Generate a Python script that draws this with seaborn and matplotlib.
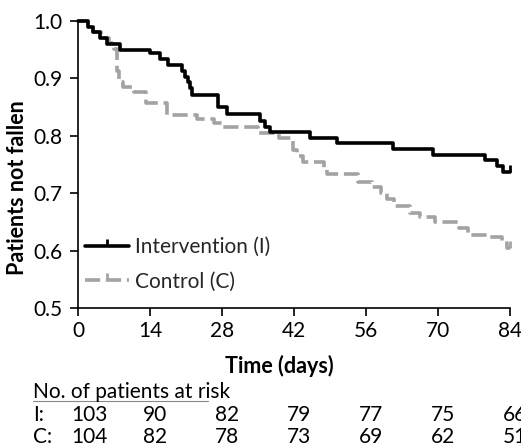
import numpy as np
import pandas as pd
import matplotlib
matplotlib.use("Agg")
import matplotlib.pyplot as plt
from matplotlib.lines import Line2D
import seaborn as sns

# Kaplan-Meier estimates: time (days) and proportion of patients not fallen
int_time = [0, 1.9, 2.9, 4.3, 5.6, 8.2, 14.0, 16.0, 17.5, 20.2, 20.8, 21.4, 21.8, 22.2,
            27.2, 29.0, 35.4, 36.4, 37.3, 45.1, 50.4, 61.3, 69.1, 79.2, 81.5, 82.7, 84.0]
int_surv = [1.0, 0.99, 0.98, 0.97, 0.96, 0.95, 0.944, 0.934, 0.923, 0.913, 0.903, 0.893, 0.883, 0.871,
            0.85, 0.838, 0.826, 0.816, 0.806, 0.797, 0.787, 0.777, 0.767, 0.757, 0.747, 0.737, 0.737]

ctl_time = [0, 2.0, 3.0, 4.5, 6.0, 7.0, 7.6, 8.0, 8.8, 10.8, 13.2, 17.3, 23.1, 26.5, 28.0,
            35.0, 39.0, 41.8, 42.6, 43.8, 47.8, 48.5, 54.5, 57.2, 59.0, 60.0, 61.5, 64.5,
            66.5, 69.5, 74.0, 75.8, 79.7, 82.5, 83.5, 84.0]
ctl_surv = [1.0, 0.99, 0.98, 0.97, 0.961, 0.952, 0.913, 0.894, 0.885, 0.876, 0.857, 0.836, 0.829, 0.822, 0.815,
            0.805, 0.796, 0.775, 0.764, 0.754, 0.744, 0.733, 0.72, 0.71, 0.70, 0.69, 0.677, 0.666,
            0.658, 0.649, 0.639, 0.628, 0.623, 0.614, 0.605, 0.605]

# Numbers at risk
risk_days = [0, 14, 28, 42, 56, 70, 84]
risk_int = [103, 90, 82, 79, 77, 75, 66]
risk_ctl = [104, 82, 78, 73, 69, 62, 51]

x_ticks = [0, 14, 28, 42, 56, 70, 84]
y_ticks = [0.5, 0.6, 0.7, 0.8, 0.9, 1.0]

labels = ["Intervention (I)", "Control (C)"]

sns.set_theme(style="white")
plt.rcParams["font.family"] = ["Lato", "DejaVu Sans"]
plt.rcParams["axes.edgecolor"] = "black"

FS = 15
FS_BOLD = 15.5

fig = plt.figure(figsize=(5.21, 4.46), dpi=100)
ax = fig.add_axes([0.1497, 0.3094, 0.8292, 0.6435])

df_int = pd.DataFrame({"time": int_time, "surv": int_surv})
df_ctl = pd.DataFrame({"time": ctl_time, "surv": ctl_surv})

black = "#000000"
grey = "#a3a3a3"
tick_marker = [(0, 0), (0, 1)]

sns.lineplot(data=df_ctl, x="time", y="surv", ax=ax, estimator=None, sort=False,
             drawstyle="steps-post", color=grey, linewidth=2.6,
             linestyle=(0, (4.2, 1.6)), marker=tick_marker, markersize=10,
             markeredgewidth=2, markeredgecolor=grey, markevery=[len(ctl_time) - 1],
             clip_on=False)
sns.lineplot(data=df_int, x="time", y="surv", ax=ax, estimator=None, sort=False,
             drawstyle="steps-post", color=black, linewidth=2.6,
             marker=tick_marker, markersize=10, markeredgewidth=2,
             markeredgecolor=black, markevery=[len(int_time) - 1], clip_on=False)

ax.set_xlim(0, 84)
ax.set_ylim(0.5, 1.0)
ax.set_xticks(x_ticks)
ax.set_yticks(y_ticks)
ax.set_yticklabels([f"{v:.1f}" for v in y_ticks])
sns.despine(ax=ax)
for s in ("left", "bottom"):
    ax.spines[s].set_linewidth(1.2)
ax.tick_params(axis="both", which="major", direction="out", length=6, width=1.2,
               color="black", labelsize=FS, labelcolor="black", bottom=True, left=True)
ax.tick_params(axis="y", pad=5)
ax.tick_params(axis="x", pad=3)

ax.set_xlabel("Time (days)", fontsize=FS_BOLD, fontweight="bold", color="black")
ax.set_ylabel("Patients not fallen", fontsize=FS_BOLD, fontweight="bold", color="black")
ax.xaxis.set_label_coords(0.465, -0.165)
ax.yaxis.set_label_coords(-0.116, 0.42)

handles = [
    Line2D([0], [0], color=black, linewidth=2.6, marker=tick_marker, markersize=10,
           markeredgewidth=2, markeredgecolor=black),
    Line2D([0], [0], color=grey, linewidth=2.6, linestyle=(0, (4.2, 1.6)),
           marker=tick_marker, markersize=10, markeredgewidth=2, markeredgecolor=grey),
]
ax.legend(handles, labels, loc="center left", bbox_to_anchor=(0.016, 0.153),
          frameon=False, fontsize=FS, handlelength=2.1, handletextpad=0.3,
          labelspacing=0.7, borderpad=0, borderaxespad=0)

# Table of numbers at risk below the axis
trans = matplotlib.transforms.blended_transform_factory(ax.transData, fig.transFigure)
offset = matplotlib.transforms.ScaledTranslation(-7 / 100, 0, fig.dpi_scale_trans)
fig.text(33 / 521, 1 - 392 / 446, "No. of patients at risk", fontsize=FS,
         ha="left", va="center", color="black")
fig.add_artist(Line2D([33 / 521, 208 / 521], [1 - 400.5 / 446, 1 - 400.5 / 446],
                      color="#888888", linewidth=0.8, transform=fig.transFigure))
row_y = [1 - 415 / 446, 1 - 437 / 446]
for lab, vals, yy in zip(["I:", "C:"], [risk_int, risk_ctl], row_y):
    fig.text(33 / 521, yy, lab, fontsize=FS, ha="left", va="center", color="black")
    for d, v in zip(risk_days, vals):
        ax.text(d, yy, str(v), transform=trans + offset, fontsize=FS, ha="left",
                va="center", color="black", clip_on=False)

fig.savefig("out.png", dpi=100)
